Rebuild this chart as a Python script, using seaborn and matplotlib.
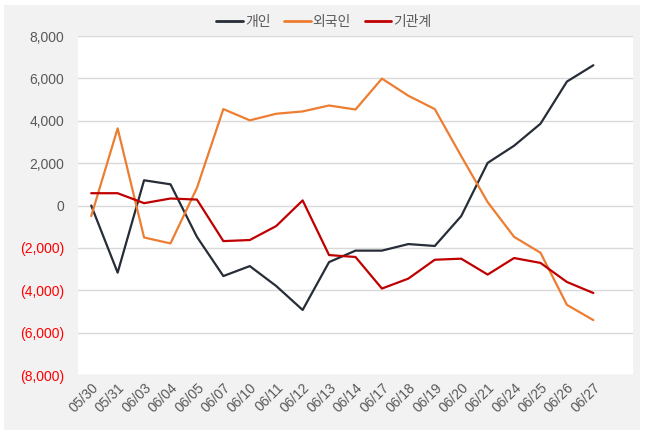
import matplotlib
matplotlib.use("Agg")
import matplotlib.pyplot as plt
from matplotlib.patches import Rectangle
from matplotlib.ticker import FuncFormatter
from matplotlib.lines import Line2D
import seaborn as sns
import pandas as pd

dates = ["05/30", "05/31", "06/03", "06/04", "06/05", "06/07", "06/10", "06/11", "06/12", "06/13",
         "06/14", "06/17", "06/18", "06/19", "06/20", "06/21", "06/24", "06/25", "06/26", "06/27"]
individual = [0, -3170, 1190, 1000, -1480, -3330, -2860, -3800, -4930, -2670,
              -2130, -2130, -1820, -1910, -500, 2010, 2820, 3860, 5850, 6620]
foreign = [-500, 3640, -1510, -1790, 830, 4550, 4020, 4330, 4440, 4720,
           4530, 5990, 5180, 4550, 2330, 160, -1480, -2230, -4690, -5410]
institution = [580, 580, 110, 330, 280, -1680, -1630, -970, 240, -2340,
               -2430, -3920, -3450, -2560, -2510, -3260, -2480, -2710, -3610, -4130]

series_names = ["개인", "외국인", "기관계"]
colors = ["#262d37", "#ed7d31", "#c00000"]

rows = []
for name, vals in zip(series_names, [individual, foreign, institution]):
    for i, (d, v) in enumerate(zip(dates, vals)):
        rows.append({"idx": i, "date": d, "series": name, "value": v})
df = pd.DataFrame(rows)

sns.set_theme(style="white")
plt.rcParams['font.family'] = ['Liberation Sans', 'Noto Sans CJK KR', 'DejaVu Sans']

W, H = 645, 438
fig = plt.figure(figsize=(W / 100, H / 100), dpi=100, facecolor="white")
fig.patches.append(Rectangle((4 / W, 1 - 430 / H), (640 - 4) / W, (430 - 5) / H,
                             transform=fig.transFigure, facecolor="#f2f2f2",
                             edgecolor="none", zorder=-10))
ax = fig.add_axes([78 / W, 1 - 375 / H, (633 - 78) / W, (375 - 36) / H])
ax.set_facecolor("white")

sns.lineplot(data=df, x="idx", y="value", hue="series", hue_order=series_names,
             palette=colors, linewidth=1.6, ax=ax, legend=False)

ax.set_xlim(-0.5, 20.5)
ax.set_ylim(-8000, 8000)
ax.set_yticks(range(-8000, 8001, 2000))
ax.set_xticks(range(len(dates)))
ax.set_xticklabels(dates, rotation=45, ha="right", rotation_mode="anchor")

def fmt(v, pos):
    v = int(round(v))
    if v < 0:
        return "({:,})".format(-v)
    return "{:,}".format(v)
ax.yaxis.set_major_formatter(FuncFormatter(fmt))

ax.grid(axis="y", color="#d9d9d9", linewidth=1)
ax.grid(axis="x", visible=False)
for s in ax.spines.values():
    s.set_visible(False)
ax.tick_params(axis="both", length=0, labelsize=10, labelcolor="#595959")
ax.tick_params(axis="y", pad=10)
ax.tick_params(axis="x", pad=4)
for lab in ax.get_yticklabels():
    if lab.get_text().startswith("("):
        lab.set_color("#ff0000")
ax.set_xlabel("")
ax.set_ylabel("")

handles = [Line2D([0], [0], color=c, linewidth=2) for c in colors]
fig.legend(handles, series_names, loc="center", bbox_to_anchor=(324 / W, 1 - 22 / H),
           ncol=3, frameon=False, fontsize=10, labelcolor="#595959",
           handlelength=1.9, handletextpad=0.15, columnspacing=1.0)

fig.savefig("out.png", dpi=100, facecolor="white")
